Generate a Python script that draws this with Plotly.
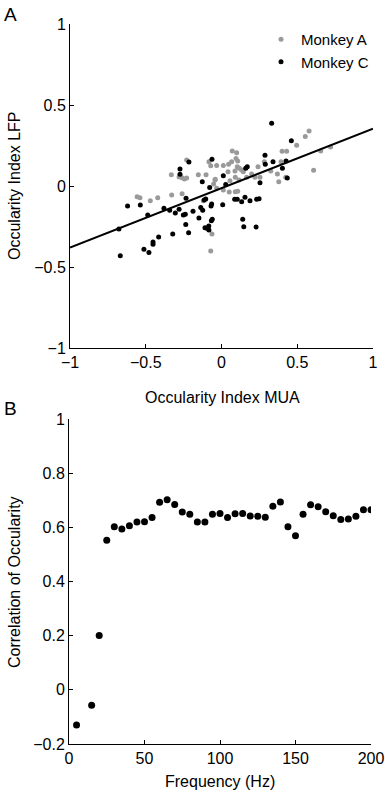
import plotly.graph_objects as go

# ---------------- Panel A data ----------------
monkeyA_x = [-0.557, -0.538, -0.47, -0.421, -0.331, -0.329, -0.28, -0.26, -0.26, -0.245, -0.23, -0.23,
             -0.153, -0.102, -0.083, -0.071, -0.041, -0.052, -0.12, -0.063, -0.071,
             0.578, 0.553, 0.496, 0.655, 0.72, 0.608, 0.4, 0.43, 0.393, 0.283, 0.241, 0.325, 0.378, 0.424,
             0.369, 0.071, 0.1, 0.096, 0.107, 0.067, 0.047, 0.012, -0.032, 0.104, 0.118, 0.133, 0.089,
             0.043, 0.144, 0.199, 0.221, 0.254, 0.166, 0.091, 0.116, 0.056, -0.043, -0.032, 0.051, 0.091,
             0.107, 0.012]
monkeyA_y = [-0.066, -0.072, -0.091, -0.072, 0.07, -0.056, 0.056, -0.048, 0.051, 0.043, 0.16, 0.049,
             0.07, 0.07, 0.15, 0.125, 0.041, 0.012, -0.091, -0.296, -0.401,
             0.34, 0.305, 0.251, 0.216, 0.24, 0.097, 0.214, 0.214, 0.15, 0.15, 0.119, 0.093, 0.027, 0.054,
             0.074, 0.216, 0.206, 0.169, 0.154, 0.15, 0.134, 0.127, 0.127, 0.119, 0.109, 0.099, 0.093,
             0.088, 0.088, 0.074, 0.054, 0.054, 0.054, 0.054, 0.037, 0.033, 0.037, -0.014, -0.037, -0.035,
             -0.033, -0.025]

monkeyC_x = [-0.62, -0.536, -0.487, -0.677, -0.668, -0.512, -0.479, -0.452, -0.452, -0.415, -0.38, -0.342,
             -0.322, -0.305, -0.28, -0.274, -0.274, -0.252, -0.239, -0.234, -0.236, -0.215, -0.217, -0.188,
             -0.149, -0.137, -0.127, -0.124, -0.114, -0.104, -0.109, -0.096, -0.084, -0.083, -0.078, -0.069,
             -0.065, -0.063, -0.061, -0.067,
             0.331, 0.461, 0.287, 0.34, 0.426, 0.402, 0.289, 0.434, 0.17, 0.16, 0.254, 0.012, 0.028, 0.087,
             0.104, 0.133, 0.155, 0.188, 0.232, 0.248, 0.008, 0.14, 0.147, 0.228]
monkeyC_y = [-0.123, -0.117, -0.179, -0.265, -0.43, -0.39, -0.41, -0.346, -0.36, -0.315, -0.138, -0.15,
             -0.296, -0.167, -0.144, 0.105, 0.072, -0.179, -0.175, -0.076, -0.237, 0.148, -0.288, -0.156,
             -0.198, -0.132, 0.027, -0.15, -0.086, -0.08, -0.257, -0.261, -0.247, -0.272, -0.01, -0.123,
             -0.111, 0.165, -0.206, -0.214,
             0.387, 0.28, 0.19, 0.15, 0.154, 0.109, 0.134, 0.049, 0.119, 0.109, 0.02, 0.064, 0.01, -0.082,
             -0.082, -0.097, -0.07, -0.091, -0.082, -0.078, -0.115, -0.206, -0.251, -0.253]

fit_intercept = -0.013
fit_slope = 0.367
fit_x = [-1, 1]

# ---------------- Panel B data ----------------
freq = [5, 15, 20, 25, 30, 35, 40, 45, 50, 55, 60, 65, 70, 75, 80, 85, 90, 95, 100, 105, 110, 115, 120,
        125, 130, 135, 140, 145, 150, 155, 160, 165, 170, 175, 180, 185, 190, 195, 200]
corr = [-0.13, -0.057, 0.201, 0.552, 0.602, 0.594, 0.606, 0.620, 0.621, 0.636, 0.693, 0.702, 0.684,
        0.657, 0.648, 0.620, 0.620, 0.648, 0.651, 0.636, 0.650, 0.651, 0.642, 0.641, 0.637, 0.678, 0.694,
        0.602, 0.569, 0.648, 0.683, 0.676, 0.658, 0.643, 0.629, 0.631, 0.641, 0.665, 0.665]

W, H = 385, 792
FONT = "Liberation Sans, Arial, Helvetica, sans-serif"

fig = go.Figure()
fig.add_trace(go.Scatter(x=monkeyA_x, y=monkeyA_y, mode="markers", name="Monkey A",
                         marker=dict(color="#9a9a9a", size=5), xaxis="x", yaxis="y"))
fig.add_trace(go.Scatter(x=monkeyC_x, y=monkeyC_y, mode="markers", name="Monkey C",
                         marker=dict(color="black", size=5), xaxis="x", yaxis="y"))
fig.add_trace(go.Scatter(x=fit_x, y=[fit_intercept + fit_slope * v for v in fit_x], mode="lines",
                         line=dict(color="black", width=2), showlegend=False, xaxis="x", yaxis="y"))
fig.add_trace(go.Scatter(x=freq, y=corr, mode="markers", showlegend=False,
                         marker=dict(color="black", size=7), xaxis="x2", yaxis="y2"))

def px_x(p):
    return p / W

def px_y(p):
    return 1 - p / H

axis_common = dict(showline=True, linecolor="black", linewidth=1, ticks="inside", ticklen=4,
                   tickcolor="black", showgrid=False, zeroline=False, mirror=False, automargin=False,
                   tickfont=dict(size=16, color="black", family=FONT))

def title_annot(text, x, y, angle=0):
    return dict(text=text, x=px_x(x), y=px_y(y), xref="paper", yref="paper", xanchor="center",
                yanchor="middle", showarrow=False, textangle=angle,
                font=dict(size=16, color="black", family=FONT))

fig.update_layout(
    width=W, height=H, margin=dict(l=0, r=0, t=0, b=0, autoexpand=False),
    paper_bgcolor="white", plot_bgcolor="white",
    font=dict(family=FONT, color="black"),
    xaxis=dict(domain=[px_x(70), px_x(373)], range=[-1, 1], anchor="y",
               tickvals=[-1, -0.5, 0, 0.5, 1], ticktext=["\u22121", "\u22120.5", "0", "0.5", "1"],
               **axis_common),
    yaxis=dict(domain=[px_y(348), px_y(24)], range=[-1, 1], anchor="x",
               tickvals=[-1, -0.5, 0, 0.5, 1], ticktext=["\u22121", "\u22120.5", "0", "0.5", "1"],
               **axis_common),
    xaxis2=dict(domain=[px_x(69), px_x(371)], range=[0, 200], anchor="y2",
                tickvals=[0, 50, 100, 150, 200], **axis_common),
    yaxis2=dict(domain=[px_y(744), px_y(419)], range=[-0.2, 1], anchor="x2",
                tickvals=[-0.2, 0, 0.2, 0.4, 0.6, 0.8, 1],
                ticktext=["\u22120.2", "0", "0.2", "0.4", "0.6", "0.8", "1"],
                **axis_common),
    legend=dict(x=px_x(261), y=px_y(23), xanchor="left", yanchor="top", bgcolor="rgba(0,0,0,0)",
                font=dict(size=15, color="black", family=FONT), itemwidth=30, tracegroupgap=0),
    annotations=[
        dict(text="A", x=px_x(2), y=px_y(15), xref="paper", yref="paper", xanchor="left", yanchor="middle",
             showarrow=False, font=dict(size=19, color="black", family=FONT)),
        dict(text="B", x=px_x(2), y=px_y(408), xref="paper", yref="paper", xanchor="left", yanchor="middle",
             showarrow=False, font=dict(size=19, color="black", family=FONT)),
        title_annot("Occularity Index MUA", 222, 397),
        title_annot("Occularity Index LFP", 14, 186, -90),
        title_annot("Frequency (Hz)", 220, 781),
        title_annot("Correlation of Occularity", 14, 582, -90),
    ],
)

# remove the default page margin so the 385x792 figure fills the window exactly
fig.write_html("out.html", config={"displayModeBar": False},
               post_script="document.body.style.margin='0';document.body.style.overflow='hidden';")
